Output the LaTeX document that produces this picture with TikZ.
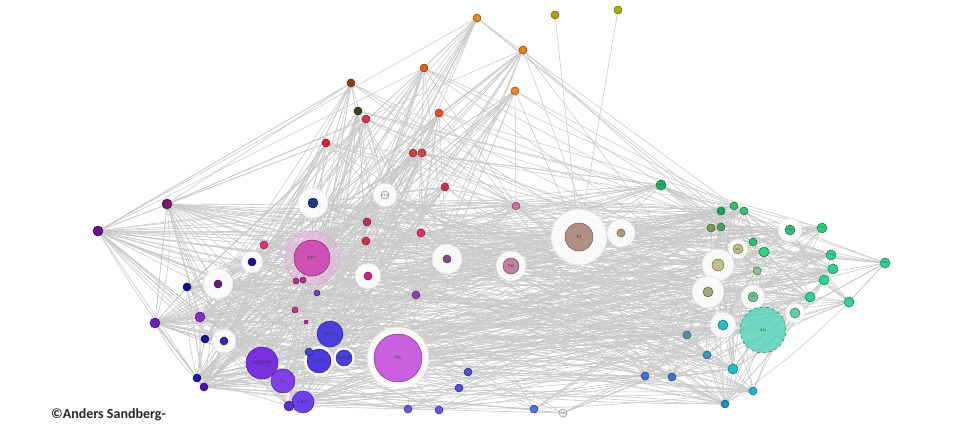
\documentclass[tikz,border=0pt]{standalone}
\usepackage{fontspec}
\newfontfamily\crfont{Carlito}
\pgfdeclarelayer{bg}
\pgfdeclarelayer{mid}
\pgfsetlayers{bg,mid,main}
\tikzset{
  nd/.style={circle, inner sep=0pt, line width=0.5pt, font=\fontsize{3}{3}\selectfont, text=black!80},
  bignd/.style={font=\fontsize{4.5}{4.5}\selectfont},
  edge/.style={draw=black!21, line width=0.6pt},
  halo/.style={circle, fill=white, fill opacity=0.88, draw=black!13, line width=0.5pt, inner sep=0pt},
}
\newcommand\nd[6]{\definecolor{c#1}{HTML}{#5}\node[nd, minimum size=#4*2pt, fill=c#1, draw=c#1!55!black] (#1) at (#2,#3) {#6};}
\newcommand\bnd[6]{\definecolor{c#1}{HTML}{#5}\node[nd, bignd, minimum size=#4*2pt, fill=c#1, draw=c#1!60!black] (#1) at (#2,#3) {#6};}
\newcommand\hl[2]{\node[halo, minimum size=#2*2pt] at (#1) {};}
\begin{document}
\begin{tikzpicture}[x=1pt,y=-1pt]
\useasboundingbox (0,0) rectangle (960,430);
% ---- top
\nd{t1}{477}{18}{4}{E0852A}{}
\nd{t2}{523}{50}{4}{E8801E}{}
\nd{t3}{424}{68}{4}{E0601E}{}
\nd{t4}{351}{83}{4}{8B3A1A}{}
\nd{t5}{515}{91}{4}{E08A2A}{}
\nd{t6}{358}{111}{4}{404020}{}
\nd{t7}{366}{119}{4}{E03040}{}
\nd{t8}{439}{113}{4}{E05030}{}
\nd{t9}{326}{143}{4}{E0203A}{}
\nd{t10}{413}{153}{4}{D04040}{}
\nd{t11}{422}{153}{4}{D04848}{}
\nd{t12}{445}{187}{4}{D03050}{}
\nd{y1}{555}{15}{4}{B0A010}{}
\nd{y2}{618}{10}{4}{A8B010}{}
% ---- centre
\nd{c1}{385}{195}{4}{F4F4F4}{PC7}
\nd{c2}{313}{203}{5}{1A3A7A}{}
\nd{c3}{516}{206}{4}{D070A0}{}
\nd{c4}{367}{222}{4}{C03060}{}
\nd{c5}{366}{241}{4}{D03050}{}
\nd{c6}{421}{233}{4}{E03070}{}
\nd{c7}{447}{259}{4}{805080}{}
\nd{c8}{368}{276}{4}{D02080}{}
\nd{c9}{416}{295}{4}{9040B0}{}
\nd{c10}{264}{245}{4}{E0307A}{}
\nd{c11}{252}{262}{4}{1A1A90}{}
\nd{c12}{317}{293}{3}{7040C0}{}
\nd{c13}{295}{310}{3}{C030A0}{}
\nd{c14}{306}{322}{2}{C030A0}{}
\bnd{pk}{312}{258}{18}{D050B8}{ppc}
\nd{p2}{303}{280}{3}{B03090}{}
\nd{p3}{296}{281}{3}{B03090}{}
% ---- left
\nd{l1}{98}{231}{5}{6A108A}{}
\nd{l2}{167}{204}{5}{7A1A6A}{}
\nd{l3}{218}{284}{4}{5A207A}{}
\nd{l4}{187}{287}{4}{101090}{}
\nd{l5}{155}{323}{5}{6A20B0}{}
\nd{l6}{200}{317}{5}{8030C0}{}
\nd{l7}{205}{339}{4}{2010A0}{}
\nd{l8}{224}{341}{4}{4020B0}{}
\nd{l9}{197}{378}{4}{1818B0}{}
\nd{l10}{204}{387}{4}{5010B0}{}
\bnd{m1}{262}{363}{16}{7A30E0}{MOTW}
\bnd{m2}{283}{381}{12}{8040E8}{7a}
\bnd{m3}{330}{334}{13}{4A40E0}{HPC}
\bnd{m4}{319}{361}{12}{4A3AE0}{LPO}
\bnd{m5}{344}{358}{8}{4A40E0}{OPE}
\bnd{m6}{303}{402}{11}{6A40F0}{LPS}
\nd{m7}{289}{406}{5}{5A30D0}{}
\nd{m8}{309}{352}{4}{5040D0}{}
\bnd{b7}{398}{358}{24}{C860E0}{7b}
% ---- bottom
\nd{b1}{468}{372}{4}{5050D0}{}
\nd{b2}{459}{388}{4}{5050D0}{}
\nd{b3}{408}{409}{4}{7050E0}{}
\nd{b4}{439}{410}{4}{7050E0}{}
\nd{b5}{534}{409}{4}{5070E0}{}
\nd{b6}{563}{413}{4}{F4F4F4}{AB}
% ---- middle
\bnd{s56}{511}{266}{8}{C080A0}{56}
\bnd{M}{579}{237}{14}{B09080}{M}
\nd{M2}{621}{233}{4}{B0A080}{}
% ---- right
\nd{r1}{661}{185}{5}{20B060}{23}
\nd{r2}{721}{211}{4}{20A060}{}
\nd{r3}{734}{206}{4}{30C070}{}
\nd{r4}{744}{211}{4}{30C070}{}
\nd{r5}{711}{228}{4}{70A050}{}
\nd{r6}{721}{227}{4}{50A060}{}
\nd{r7}{753}{242}{4}{30C070}{}
\nd{r8}{738}{249}{5}{C0C080}{4G}
\nd{r9}{764}{252}{5}{30D080}{}
\nd{r10}{790}{230}{5}{30C080}{13a}
\nd{r11}{822}{228}{5}{30D080}{14a}
\nd{r12}{831}{255}{5}{30D090}{11a}
\nd{r13}{833}{269}{5}{30D090}{}
\nd{r14}{824}{280}{5}{30D090}{}
\nd{r15}{885}{263}{5}{30D090}{12a}
\nd{r16}{718}{265}{6}{C0C080}{}
\nd{r17}{757}{271}{4}{90C090}{}
\nd{r18}{708}{292}{5}{A0A880}{}
\nd{r19}{753}{297}{5}{70C090}{45}
\nd{r20}{810}{297}{5}{30D090}{}
\nd{r21}{849}{302}{5}{30D0A0}{}
\nd{r22}{795}{313}{5}{60D0A0}{}
\node[nd, bignd, minimum size=46pt, fill={rgb,255:red,90;green,210;blue,185}, fill opacity=0.85, text opacity=1, draw={rgb,255:red,40;green,120;blue,110}, dashed] (big) at (763,330) {46};
\nd{r23}{723}{325}{5}{20C0C0}{}
\nd{r24}{687}{335}{4}{5090A0}{}
\nd{r25}{707}{355}{4}{4090C0}{}
\nd{r26}{733}{369}{5}{20C0D0}{}
\nd{r27}{753}{391}{4}{20B0D0}{}
\nd{r28}{725}{404}{4}{2090C0}{}
\nd{r29}{672}{377}{4}{4070D0}{}
\nd{r30}{645}{376}{4}{4070D0}{}
% ---- credit
\node[anchor=west, inner sep=0pt, font=\crfont\bfseries\fontsize{14}{14}\selectfont, text=black!85] (cr) at (51,415) {©Anders Sandberg-};

\begin{pgfonlayer}{mid}
\node[circle, minimum size=54pt, fill=cpk!45, fill opacity=0.45, draw=cpk!60, inner sep=0pt] at (pk) {};
\end{pgfonlayer}

\begin{pgfonlayer}{bg}
\pgfmathsetseed{11}
\pgfmathdeclarerandomlist{Tset}{{t1}{t2}{t3}{t4}{t5}{t6}{t7}{t8}{t9}{t10}{t11}{t12}}
\pgfmathdeclarerandomlist{Lset}{{l1}{l2}{l3}{l4}{l5}{l6}{l7}{l8}{l9}{l10}{m1}{m2}{m3}{m4}{m5}{m6}{m7}{m8}{b7}{c1}{c2}{c3}{c4}{c5}{c6}{c7}{c8}{c9}{c10}{c11}{c12}{c13}{pk}{pk}{m1}{m3}}
\pgfmathdeclarerandomlist{Rset}{{r1}{r2}{r3}{r4}{r5}{r6}{r7}{r8}{r9}{r10}{r11}{r12}{r13}{r14}{r16}{r17}{r18}{r19}{r20}{r21}{r22}{r23}{r24}{r25}{r26}{r27}{r28}{r29}{r30}{big}{big}{M}{M2}{s56}}
\pgfmathdeclarerandomlist{Bset}{{b1}{b2}{b3}{b4}{b5}{b6}}
% top to left/centre
\foreach \a in {t1,t2,t3,t4,t5,t6,t7,t8,t9,t10,t11,t12}{
  \foreach \k in {1,...,14}{\pgfmathrandomitem{\tgt}{Lset}\draw[edge] (\a) -- (\tgt);}
  \foreach \k in {1,2,3}{\pgfmathrandomitem{\tgt}{Rset}\draw[edge] (\a) -- (\tgt);}
}
% left/centre to right
\foreach \a in {l1,l2,l3,l4,l5,l6,l7,l8,l9,l10,m1,m2,m3,m4,m5,m6,m7,m8,b7,c1,c2,c3,c4,c5,c6,c7,c8,c9,c10,c11,c12,c13,pk}{
  \foreach \k in {1,...,9}{\pgfmathrandomitem{\tgt}{Rset}\pgfmathrandominteger{\bb}{-10}{10}\draw[edge] (\a) to[bend left=\bb] (\tgt);}
  \foreach \k in {1,...,5}{\pgfmathrandomitem{\tgt}{Lset}\ifnum\strcmp{\a}{\tgt}=0 \else\pgfmathrandominteger{\bb}{-15}{15}\draw[edge] (\a) to[bend left=\bb] (\tgt);\fi}
}
% far-left hubs
\foreach \a in {l1,l2,l5,l9,l10}{
  \foreach \k in {1,...,12}{\pgfmathrandomitem{\tgt}{Lset}\ifnum\strcmp{\a}{\tgt}=0 \else\draw[edge] (\a) -- (\tgt);\fi}
  \foreach \k in {1,...,5}{\pgfmathrandomitem{\tgt}{Rset}\draw[edge] (\a) -- (\tgt);}
}
% pink hub
\foreach \k in {1,...,25}{\pgfmathrandomitem{\tgt}{Lset}\ifnum\strcmp{pk}{\tgt}=0 \else\draw[edge] (pk) -- (\tgt);\fi}
\foreach \k in {1,...,12}{\pgfmathrandomitem{\tgt}{Tset}\draw[edge] (pk) -- (\tgt);}
% right internal
\foreach \a in {r1,r2,r3,r4,r5,r6,r7,r8,r9,r10,r11,r12,r13,r14,r16,r17,r18,r19,r20,r21,r22,r23,r24,r25,r26,r27,r28,r29,r30,big}{
  \foreach \k in {1,...,5}{\pgfmathrandomitem{\tgt}{Rset}\ifnum\strcmp{\a}{\tgt}=0 \else\pgfmathrandominteger{\bb}{-12}{12}\draw[edge] (\a) to[bend left=\bb] (\tgt);\fi}
}
\foreach \k in {1,...,14}{\pgfmathrandomitem{\tgt}{Rset}\draw[edge] (r15) -- (\tgt);}
% bottom
\foreach \a in {b1,b2,b3,b4,b5,b6}{
  \foreach \k in {1,...,5}{\pgfmathrandomitem{\tgt}{Lset}\draw[edge] (\a) -- (\tgt);}
  \foreach \k in {1,...,4}{\pgfmathrandomitem{\tgt}{Rset}\draw[edge] (\a) -- (\tgt);}
}
\draw[edge] (y1) -- (M);
\draw[edge] (y2) -- (M);
% halos
\hl{M}{28}\hl{M2}{14}\hl{b7}{31}\hl{c2}{15}\hl{c1}{12}\hl{c7}{15}\hl{c8}{13}\hl{s56}{15}
\hl{l3}{15}\hl{l8}{12}\hl{c11}{11}\hl{m4}{15}\hl{m5}{11}
\hl{r8}{10}\hl{r10}{12}\hl{r16}{16}\hl{r18}{16}\hl{r19}{12}\hl{r22}{10}\hl{r23}{13}
\end{pgfonlayer}
\end{tikzpicture}
\end{document}
